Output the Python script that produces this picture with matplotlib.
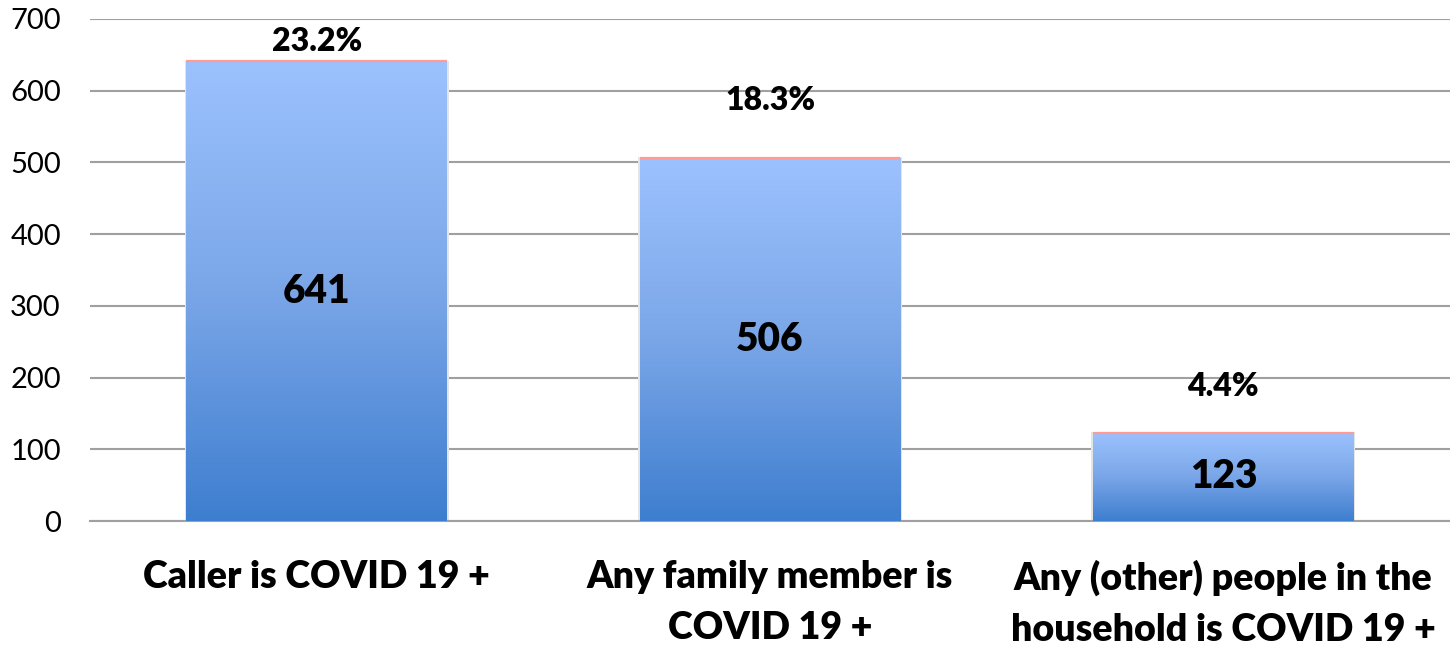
import matplotlib.pyplot as plt
import numpy as np
from matplotlib.colors import LinearSegmentedColormap

# 데이터
categories = ["Caller is COVID 19 +", "Any family member is\nCOVID 19 +",
              "Any (other) people in the\nhousehold is COVID 19 +"]
counts = [641, 506, 123]
percents = ["23.2%", "18.3%", "4.4%"]
yticks = [0, 100, 200, 300, 400, 500, 600, 700]

plt.rcParams['font.family'] = ['Lato', 'DejaVu Sans']

fig = plt.figure(figsize=(14.5, 6.45), dpi=100)
ax = fig.add_axes([90 / 1450, 1 - 521 / 645, 1360 / 1450, 502 / 645])

x = np.arange(len(counts))
width = 0.575
bars = ax.bar(x, counts, width=width, color='none', edgecolor='none', zorder=3)

# 그라데이션 채우기
cmap = LinearSegmentedColormap.from_list('bluegrad', ['#3E7ECF', '#7AA6E8', '#9CC2FE'])
grad = np.linspace(0, 1, 256).reshape(-1, 1)
for b in bars:
    x0, y0 = b.get_x(), b.get_y()
    w, h = b.get_width(), b.get_height()
    # 약한 그림자
    ax.add_patch(plt.Rectangle((x0 - 0.004, y0), w + 0.008, h + 1.0,
                               facecolor='#e4e4e4', edgecolor='none', zorder=2.5))
    im = ax.imshow(grad, cmap=cmap, origin='lower', aspect='auto',
                   extent=[x0, x0 + w, y0, y0 + h], zorder=3)
    im.set_clip_path(b)
    ax.plot([x0, x0 + w], [h, h], color='#FF9A94', lw=1.6, zorder=4,
            solid_capstyle='butt')

# 값 라벨
pct_offsets = [28, 81, 64]
for i, (c, p) in enumerate(zip(counts, percents)):
    ax.text(i, c / 2, str(c), ha='center', va='center', fontsize=28,
            fontweight='heavy', color='black', zorder=5)
    ax.text(i, c + pct_offsets[i], p, ha='center', va='center', fontsize=23,
            fontweight='heavy', color='black', zorder=5)

ax.set_xlim(-0.5, 2.5)
ax.set_ylim(0, 700)
ax.set_yticks(yticks)
ax.set_yticklabels([str(t) for t in yticks], fontsize=21)
ax.yaxis.grid(True, color='#A0A0A0', lw=1.5, zorder=0)
ax.set_axisbelow(True)
ax.tick_params(axis='y', length=0, pad=21)
ax.tick_params(axis='x', length=0, pad=28)
for s in ['left', 'right', 'top']:
    ax.spines[s].set_visible(False)
ax.spines['bottom'].set_color('#A0A0A0')
ax.spines['bottom'].set_linewidth(1.5)
ax.set_xticks(x)
ax.set_xticklabels(categories, fontsize=27, fontweight='heavy', linespacing=1.6)

fig.savefig('out.png', dpi=100)
